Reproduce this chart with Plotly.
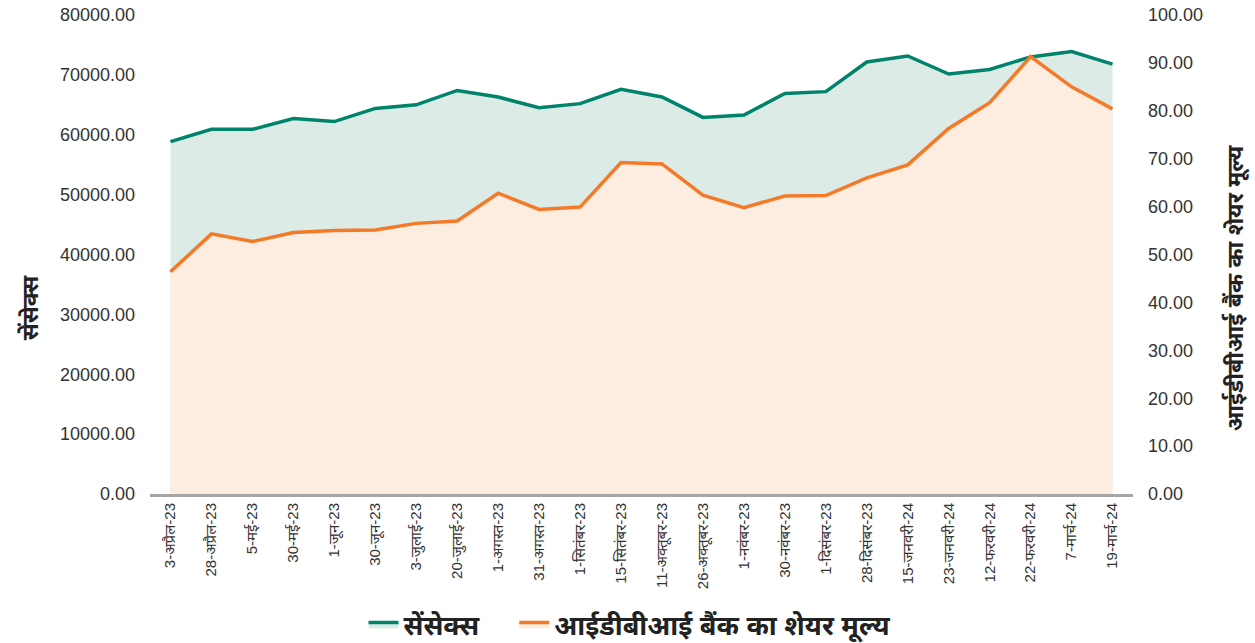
import plotly.graph_objects as go

dates = ["3-अप्रैल-23", "28-अप्रैल-23", "5-मई-23", "30-मई-23", "1-जून-23", "30-जून-23",
         "3-जुलाई-23", "20-जुलाई-23", "1-अगस्त-23", "31-अगस्त-23", "1-सितंबर-23", "15-सितंबर-23",
         "11-अक्तूबर-23", "26-अक्तूबर-23", "1-नवंबर-23", "30-नवंबर-23", "1-दिसंबर-23", "28-दिसंबर-23",
         "15-जनवरी-24", "23-जनवरी-24", "12-फरवरी-24", "22-फरवरी-24", "7-मार्च-24", "19-मार्च-24"]

sensex = [58850, 60900, 60900, 62700, 62200, 64400, 65000, 67400, 66300, 64500, 65200, 67600,
          66300, 62900, 63300, 66900, 67200, 72150, 73150, 70150, 70900, 73000, 73900, 71800]

idbi = [46.4, 54.3, 52.7, 54.6, 55.0, 55.1, 56.5, 57.0, 62.8, 59.4, 59.9, 69.2,
        68.9, 62.4, 59.8, 62.2, 62.3, 66.0, 68.7, 76.3, 81.7, 91.3, 85.0, 80.4]

name_sensex = "सेंसेक्स"
name_idbi = "आईडीबीआई बैंक का शेयर मूल्य"

GREEN = "#00836b"
ORANGE = "#f47a27"
FONT = "Liberation Sans, Arial, Noto Sans, sans-serif"

fig = go.Figure()
fig.add_trace(go.Scatter(x=dates, y=sensex, name="<b>" + name_sensex + "</b>&nbsp;&nbsp;&nbsp;&nbsp;",
                         mode="lines", line=dict(color=GREEN, width=3.5), fill="tozeroy",
                         fillcolor="#ddebe7", yaxis="y"))
fig.add_trace(go.Scatter(x=dates, y=idbi, name="<b>" + name_idbi + "</b>", mode="lines",
                         line=dict(color=ORANGE, width=3.5), fill="tozeroy",
                         fillcolor="#fdece0", yaxis="y2"))

fig.update_layout(
    width=1255, height=643,
    margin=dict(l=150, r=122, t=15, b=149, autoexpand=False),
    paper_bgcolor="white", plot_bgcolor="white",
    font=dict(family=FONT, color="#333333"),
    showlegend=True,
    legend=dict(orientation="h", xref="container", yref="container",
                x=0.502, xanchor="center", y=0.028, yanchor="middle",
                font=dict(size=27, color="#222222", family=FONT),
                traceorder="normal"),
    xaxis=dict(type="category", range=[-0.5, 23.5], tickangle=-90, automargin=False,
               tickfont=dict(size=15, color="#333333"), showgrid=False,
               showline=True, linecolor="#a6a6a6", linewidth=3, ticks=""),
    yaxis=dict(range=[0, 80000], dtick=10000, tickformat=".2f", showgrid=False,
               zeroline=False, tickfont=dict(size=18, color="#333333"), ticks="",
               automargin=False, ticklabelstandoff=14, ticklabeloverflow="allow"),
    yaxis2=dict(range=[0, 100], dtick=10, tickformat=".2f", showgrid=False, zeroline=False,
                overlaying="y", side="right", tickfont=dict(size=18, color="#333333"), ticks="",
                automargin=False, ticklabelstandoff=14, ticklabeloverflow="allow"),
    annotations=[
        dict(text="<b>" + name_sensex + "</b>", xref="paper", yref="paper",
             x=-0.122, y=0.39, xanchor="center", yanchor="middle", textangle=-90,
             showarrow=False, font=dict(size=23, color="#222222", family=FONT)),
        dict(text="<b>" + name_idbi + "</b>", xref="paper", yref="paper",
             x=1.104, y=0.43, xanchor="center", yanchor="middle", textangle=-90,
             showarrow=False, font=dict(size=23, color="#222222", family=FONT)),
    ],
)

fig.write_html("out.html", config={"displayModeBar": False},
               post_script="document.body.style.margin='0';")
